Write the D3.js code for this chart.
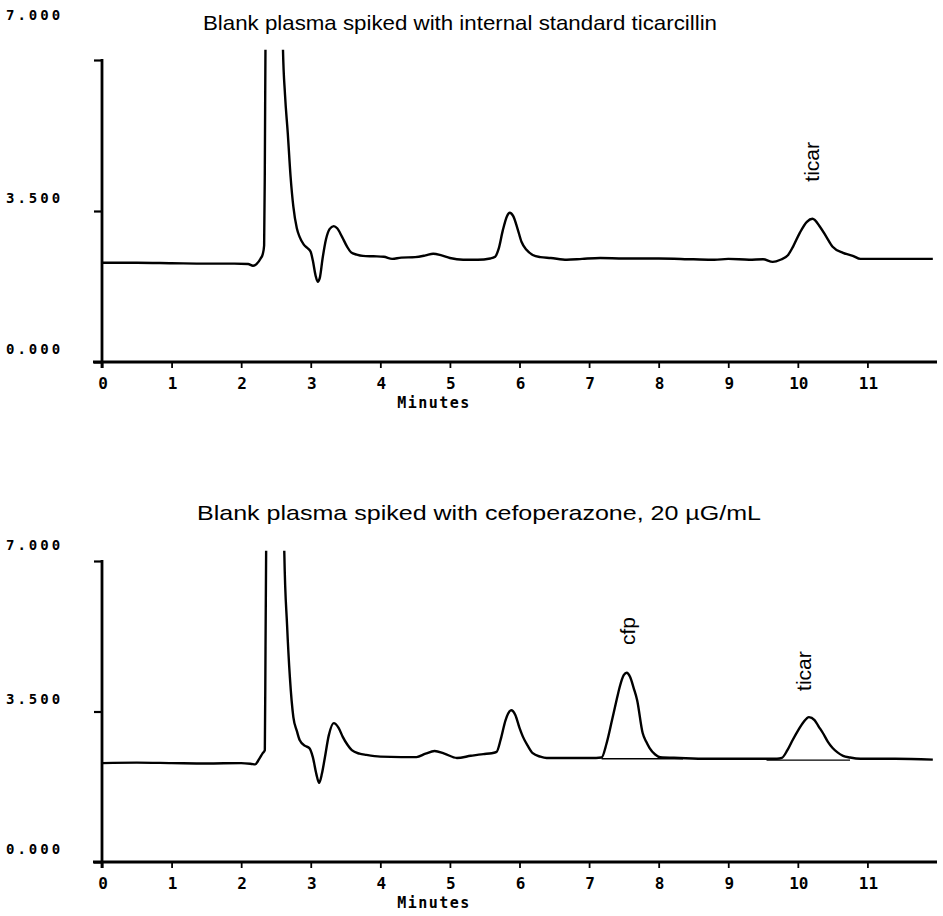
<!DOCTYPE html>
<html>
<head>
<meta charset="utf-8">
<script src="https://cdn.jsdelivr.net/npm/d3@7"></script>
<style>
  html, body { margin: 0; padding: 0; background: #fff; }
  svg { display: block; }
</style>
</head>
<body>
<svg id="chart" width="943" height="916"></svg>
<script>
// ---------------- DATA ----------------
const minuteTicks = [0, 1, 2, 3, 4, 5, 6, 7, 8, 9, 10, 11];
const yTickValues = [0, 3.5, 7];
const yTickLabels = ["0.000", "3.500", "7.000"];
const xAxisTitle = "Minutes";

const topTitle = "Blank plasma spiked with internal standard ticarcillin";
const bottomTitle = "Blank plasma spiked with cefoperazone, 20 \u00B5G/mL";

// Top chromatogram: time (min) and detector signal
const topTime = [0.00, 0.50, 1.00, 1.50, 1.90, 2.10, 2.17, 2.22, 2.28, 2.31, 2.33, 2.34, 2.35, 2.37,
  2.58, 2.60, 2.63, 2.67, 2.71, 2.75, 2.80, 2.84, 2.90, 2.96, 3.00, 3.03, 3.07, 3.10, 3.13, 3.17,
  3.22, 3.27, 3.33, 3.38, 3.45, 3.52, 3.58, 3.66, 3.75, 3.90, 4.05, 4.17, 4.30, 4.50, 4.65, 4.76,
  4.88, 5.00, 5.19, 5.40, 5.58, 5.65, 5.70, 5.76, 5.82, 5.86, 5.91, 5.97, 6.03, 6.10, 6.19, 6.30,
  6.45, 6.68, 6.90, 7.16, 7.50, 8.00, 8.50, 8.80, 9.00, 9.30, 9.50, 9.64, 9.75, 9.86, 9.93, 10.03,
  10.13, 10.21, 10.32, 10.41, 10.50, 10.65, 10.79, 10.90, 11.20, 11.60, 11.94];
const topSignal = [2.30, 2.30, 2.29, 2.28, 2.28, 2.27, 2.23, 2.27, 2.40, 2.50, 2.70, 4.50, 7.50, 9.50,
  9.50, 7.30, 6.20, 5.30, 4.30, 3.60, 3.10, 2.90, 2.72, 2.63, 2.55, 2.35, 2.00, 1.86, 1.95, 2.40,
  2.85, 3.08, 3.15, 3.10, 2.90, 2.68, 2.54, 2.49, 2.46, 2.45, 2.44, 2.39, 2.42, 2.43, 2.47, 2.51,
  2.47, 2.41, 2.37, 2.37, 2.40, 2.44, 2.62, 3.05, 3.38, 3.46, 3.38, 3.10, 2.78, 2.60, 2.48, 2.43,
  2.41, 2.37, 2.39, 2.41, 2.40, 2.40, 2.38, 2.37, 2.39, 2.37, 2.38, 2.32, 2.37, 2.48, 2.67, 3.00,
  3.25, 3.32, 3.13, 2.90, 2.67, 2.53, 2.46, 2.39, 2.39, 2.39, 2.39];

// Bottom chromatogram
const bottomTime = [0.00, 0.50, 1.00, 1.50, 2.00, 2.15, 2.20, 2.26, 2.31, 2.34, 2.35, 2.36, 2.38,
  2.60, 2.62, 2.66, 2.70, 2.75, 2.80, 2.84, 2.92, 2.98, 3.03, 3.08, 3.12, 3.16, 3.20, 3.26, 3.33,
  3.40, 3.46, 3.53, 3.59, 3.70, 3.80, 4.00, 4.30, 4.52, 4.65, 4.78, 4.92, 5.10, 5.30, 5.48, 5.60,
  5.67, 5.73, 5.80, 5.88, 5.94, 6.00, 6.05, 6.12, 6.19, 6.30, 6.39, 6.80, 7.10, 7.18, 7.25, 7.33,
  7.40, 7.44, 7.50, 7.54, 7.59, 7.64, 7.69, 7.77, 7.82, 7.87, 7.95, 8.02, 8.30, 8.70, 9.00, 9.40,
  9.70, 9.77, 9.85, 9.93, 10.00, 10.08, 10.16, 10.24, 10.30, 10.36, 10.43, 10.50, 10.57, 10.65,
  10.75, 10.90, 11.40, 11.94];
const bottomSignal = [2.30, 2.31, 2.30, 2.29, 2.30, 2.28, 2.27, 2.40, 2.53, 2.60, 5.00, 7.50, 9.50,
  9.50, 7.20, 5.50, 4.30, 3.37, 3.05, 2.84, 2.70, 2.65, 2.44, 2.05, 1.84, 2.05, 2.40, 2.95, 3.23,
  3.12, 2.91, 2.72, 2.60, 2.52, 2.49, 2.45, 2.44, 2.44, 2.52, 2.58, 2.52, 2.42, 2.47, 2.51, 2.53,
  2.56, 2.85, 3.30, 3.53, 3.42, 3.12, 2.91, 2.70, 2.53, 2.45, 2.42, 2.42, 2.42, 2.43, 2.75, 3.30,
  3.80, 4.07, 4.35, 4.40, 4.30, 4.05, 3.77, 3.00, 2.80, 2.65, 2.50, 2.44, 2.42, 2.40, 2.40, 2.40,
  2.40, 2.42, 2.60, 2.85, 3.05, 3.25, 3.37, 3.30, 3.15, 3.00, 2.80, 2.65, 2.55, 2.47,
  2.43, 2.40, 2.40, 2.38];

// Integration baselines drawn under the bottom peaks
const baseStart = [7.18, 9.55];
const baseEnd = [8.35, 10.75];
const baseLevel = [2.40, 2.37];

// Peak annotations
const topPeakNames = ["ticar"];
const topPeakTimes = [10.2];
const topPeakLevels = [4.64];
const bottomPeakNames = ["cfp", "ticar"];
const bottomPeakTimes = [7.55, 10.08];
const bottomPeakLevels = [5.37, 4.44];

// ---------------- DRAW ----------------
const svg = d3.select("#chart");
const x = d3.scaleLinear().domain([0, 12]).range([102, 937]);

const monoFont = "'DejaVu Sans Mono', 'Liberation Mono', monospace";
const sansFont = "'Liberation Sans', Arial, Helvetica, sans-serif";

function panel(cfg) {
  const g = svg.append("g");
  const y = d3.scaleLinear().domain([0, 7]).range([cfg.yBottom, cfg.yTop]);

  // title
  g.append("text")
    .attr("x", cfg.titleX)
    .attr("y", cfg.titleY)
    .attr("text-anchor", "middle")
    .attr("font-family", sansFont)
    .attr("font-size", 21)
    .attr("textLength", cfg.titleLen)
    .attr("lengthAdjust", "spacingAndGlyphs")
    .attr("fill", "#000")
    .text(cfg.title);

  // y axis
  const yAxis = d3.axisLeft(y).tickValues(yTickValues).tickSize(8).tickFormat("");
  const ya = g.append("g").attr("transform", `translate(${x(0)},0)`).call(yAxis);
  ya.select(".domain").remove();
  ya.selectAll(".tick line").attr("stroke", "#000").attr("stroke-width", 2.2);
  g.append("line")
    .attr("x1", x(0)).attr("x2", x(0))
    .attr("y1", y(7) - 1).attr("y2", y(0) + 6)
    .attr("stroke", "#000").attr("stroke-width", 2.8);

  // y tick labels
  g.selectAll(".ylab").data(yTickValues).enter().append("text")
    .attr("x", 6)
    .attr("y", (d) => d === 7 ? cfg.topLabelY : y(d) - 8)
    .attr("font-family", monoFont)
    .attr("font-size", 14)
    .attr("font-weight", "bold")
    .attr("letter-spacing", 3)
    .attr("fill", "#000")
    .text((d, i) => yTickLabels[i]);

  // x axis
  const xAxis = d3.axisBottom(x).tickValues(minuteTicks).tickSize(6).tickFormat("");
  const xa = g.append("g").attr("transform", `translate(0,${y(0)})`).call(xAxis);
  xa.select(".domain").remove();
  xa.selectAll(".tick line").attr("stroke", "#000").attr("stroke-width", 1.8);
  g.append("line")
    .attr("x1", x(0) - 9).attr("x2", x(12))
    .attr("y1", y(0)).attr("y2", y(0))
    .attr("stroke", "#000").attr("stroke-width", 3);

  g.selectAll(".xlab").data(minuteTicks).enter().append("text")
    .attr("x", (d) => x(d) + 1)
    .attr("y", y(0) + 27)
    .attr("text-anchor", "middle")
    .attr("font-family", monoFont)
    .attr("font-size", 16)
    .attr("font-weight", "bold")
    .attr("fill", "#000")
    .text((d) => String(d));

  g.append("text")
    .attr("x", 434)
    .attr("y", y(0) + 46)
    .attr("text-anchor", "middle")
    .attr("font-family", monoFont)
    .attr("font-size", 15)
    .attr("font-weight", "bold")
    .attr("letter-spacing", 1.5)
    .attr("fill", "#000")
    .text(xAxisTitle);

  // clip for trace
  const clipId = "clip" + cfg.id;
  g.append("clipPath").attr("id", clipId)
    .append("rect")
    .attr("x", x(0)).attr("y", y(7.24))
    .attr("width", x(12) - x(0)).attr("height", y(0) - y(7.24));

  const pts = cfg.time.map((t, i) => [t, cfg.signal[i]]);
  const line = d3.line()
    .x((d) => x(d[0]))
    .y((d) => y(d[1]))
    .curve(d3.curveMonotoneX);

  g.append("path")
    .attr("d", line(pts))
    .attr("clip-path", `url(#${clipId})`)
    .attr("fill", "none")
    .attr("stroke", "#000")
    .attr("stroke-width", 2.4)
    .attr("stroke-linejoin", "round");

  // integration baselines
  if (cfg.baseStart) {
    g.selectAll(".base").data(cfg.baseStart).enter().append("line")
      .attr("x1", (d) => x(d))
      .attr("x2", (d, i) => x(cfg.baseEnd[i]))
      .attr("y1", (d, i) => y(cfg.baseLevel[i]))
      .attr("y2", (d, i) => y(cfg.baseLevel[i]))
      .attr("stroke", "#000").attr("stroke-width", 1.4);
  }

  // peak labels (rotated)
  g.selectAll(".peak").data(cfg.peakNames).enter().append("text")
    .attr("transform", (d, i) => `translate(${x(cfg.peakTimes[i])},${y(cfg.peakLevels[i])}) rotate(-90)`)
    .attr("text-anchor", "middle")
    .attr("dy", "0.35em")
    .attr("font-family", sansFont)
    .attr("font-size", 21)
    .attr("fill", "#000")
    .text((d) => d);
}

panel({
  id: "top", yTop: 60, yBottom: 362, title: topTitle,
  titleX: 460, titleY: 30, titleLen: 514, topLabelY: 20,
  time: topTime, signal: topSignal,
  peakNames: topPeakNames, peakTimes: topPeakTimes, peakLevels: topPeakLevels
});

panel({
  id: "bottom", yTop: 561, yBottom: 862, title: bottomTitle,
  titleX: 479, titleY: 520, titleLen: 564, topLabelY: 550,
  time: bottomTime, signal: bottomSignal,
  baseStart: baseStart, baseEnd: baseEnd, baseLevel: baseLevel,
  peakNames: bottomPeakNames, peakTimes: bottomPeakTimes, peakLevels: bottomPeakLevels
});
</script>
</body>
</html>
